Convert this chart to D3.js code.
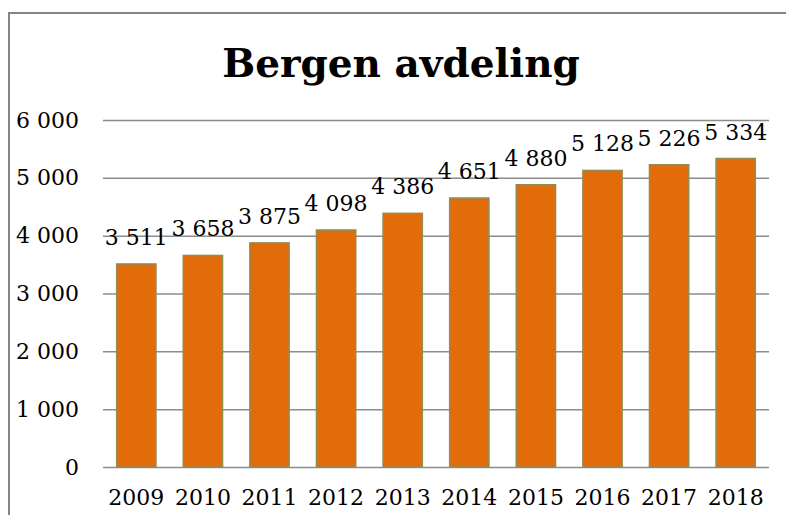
<!DOCTYPE html>
<html>
<head>
<meta charset="utf-8">
<script src="https://cdn.jsdelivr.net/npm/d3@7"></script>
<style>
  body { margin: 0; background: #fff; }
  svg text { font-family: "DejaVu Serif", serif; fill: #000; }
</style>
</head>
<body>
<div id="chart"></div>
<script>
// Data
const years = ['2009', '2010', '2011', '2012', '2013', '2014', '2015', '2016', '2017', '2018'];
const members = [3511, 3658, 3875, 4098, 4386, 4651, 4880, 5128, 5226, 5334];
const yTicks = [0, 1000, 2000, 3000, 4000, 5000, 6000];

const W = 786, H = 515;
const margin = { top: 120, bottom: 48, left: 103, right: 17 },
  width = W - margin.left - margin.right,
  height = H - margin.top - margin.bottom;

// Norwegian thousands separator (space)
const fmtTick = v => d3.format(',')(v).replace(/,/g, ' ');

const svg = d3.select('#chart')
  .append('svg')
  .attr('width', W)
  .attr('height', H);

// outer frame (right and bottom edges fall outside the picture)
svg.append('rect')
  .attr('x', 9)
  .attr('y', 13)
  .attr('width', W + 20)
  .attr('height', H + 20)
  .attr('fill', 'none')
  .attr('stroke', '#868686')
  .attr('stroke-width', 2);

// title
svg.append('text')
  .attr('x', 401)
  .attr('y', 77)
  .attr('text-anchor', 'middle')
  .style('font-size', '39px')
  .style('font-weight', 'bold')
  .text('Bergen avdeling');

const g = svg.append('g')
  .attr('transform', 'translate(' + margin.left + ',' + margin.top + ')');

const x = d3.scaleBand()
  .domain(years)
  .range([0, width])
  .paddingInner(0.41)
  .paddingOuter(0.205);

const y = d3.scaleLinear()
  .domain([0, 6000])
  .range([height, 0]);

// gridlines + y labels
const yAxis = g.append('g')
  .call(d3.axisLeft(y).tickValues(yTicks).tickSize(-width).tickPadding(24).tickFormat(fmtTick))
  .call(a => a.select('.domain').remove());
yAxis.selectAll('line')
  .attr('stroke', '#8c8c8c')
  .attr('stroke-width', 1.5);
yAxis.selectAll('text')
  .style('font-size', '22px')
  .style('font-family', '"DejaVu Serif", serif')
  .attr('fill', '#000');

// x labels
const xAxis = g.append('g')
  .attr('transform', 'translate(0,' + height + ')')
  .call(d3.axisBottom(x).tickSize(0).tickPadding(22))
  .call(a => a.select('.domain').remove());
xAxis.selectAll('text')
  .style('font-size', '22px')
  .style('font-family', '"DejaVu Serif", serif')
  .attr('fill', '#000');

// bars
g.selectAll('.bar')
  .data(years)
  .enter()
  .append('rect')
  .attr('class', 'bar')
  .attr('x', d => x(d))
  .attr('y', (d, i) => y(members[i]))
  .attr('width', x.bandwidth())
  .attr('height', (d, i) => height - y(members[i]))
  .attr('fill', '#e36c0a')
  .attr('stroke', '#948a54')
  .attr('stroke-width', 1.5);

// value labels
g.selectAll('.val')
  .data(years)
  .enter()
  .append('text')
  .attr('class', 'val')
  .attr('x', d => x(d) + x.bandwidth() / 2)
  .attr('y', (d, i) => y(members[i]) - 19)
  .attr('text-anchor', 'middle')
  .style('font-size', '22px')
  .text((d, i) => fmtTick(members[i]));
</script>
</body>
</html>
